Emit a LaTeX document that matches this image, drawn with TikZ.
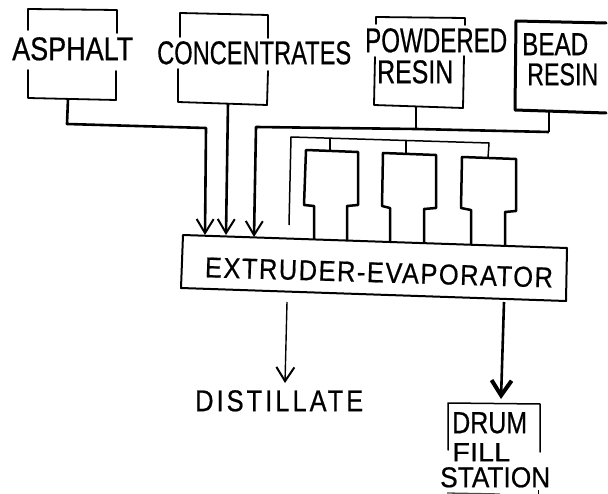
\documentclass[tikz,border=0pt]{standalone}
\usepackage{fontspec}
\setmainfont{Liberation Sans}
\usetikzlibrary{arrows.meta}
\newcommand{\lab}[3]{\resizebox{#1pt}{#2pt}{\addfontfeature{FakeBold=0.6}#3}}
\tikzset{
 lbl/.style={anchor=north west,inner sep=0pt,align=left,text=black,font=\fontsize{10}{#1}\selectfont},
 lbl/.default=30,
 boxline/.style={draw=black,line width=1.8pt,line join=round,line cap=round},
 heavyline/.style={draw=black,line width=3pt,line join=round,line cap=round},
 pipe/.style={draw=black,line width=2.6pt,line join=round},
 thinpipe/.style={draw=black,line width=1.5pt,line join=round},
 hopper/.style={draw=black,line width=2.5pt,line join=round},
 arr/.style={-{Straight Barb[length=14pt,width=17pt,line width=2pt]}},
 thinarr/.style={-{Straight Barb[length=14pt,width=18pt,line width=2pt]}},
 heavyarr/.style={-{Straight Barb[length=15pt,width=20pt,line width=4pt]}}
}
\begin{document}
\begin{tikzpicture}[x=1pt,y=-1pt]
\useasboundingbox (0,0) rectangle (608,494);
% named points
\coordinate (aB) at (68,99);
\coordinate (cB) at (228,103);
\coordinate (pB) at (416,107);
\coordinate (bB) at (549,112);
\coordinate (eT1) at (205,235);
\coordinate (eT2) at (226,235);
\coordinate (eT3) at (254,237);
\coordinate (eB1) at (287,302);
\coordinate (eB2) at (504,302);
\coordinate (dT) at (285,383);
\coordinate (drT) at (501,399);
\coordinate (feedA) at (67,124);
\coordinate (feedB) at (206,128);
\coordinate (mainL) at (256,127);
\coordinate (mainP) at (416,129);
\coordinate (mainR) at (549,132);
\coordinate (thinE) at (289,225);
\coordinate (thinL) at (291,137);
\coordinate (thinR) at (489,143);
% labels
\node[lbl] (asphT) at (12,37) {\lab{121}{23}{ASPHALT}};
\node[lbl] (concT) at (157,41) {\lab{194}{23}{CONCENTRATES}};
\node[lbl=31] (powdT) at (365,28) {\lab{142}{24}{POWDERED}\\\hspace*{12pt}\lab{76}{23}{RESIN}};
\node[lbl=30] (beadT) at (522,33) {\lab{66}{22}{BEAD}\\\hspace*{5pt}\lab{71}{22}{RESIN}};
\node[inner sep=0pt,rotate=-1.7] (extT) at (379,272.5) {\lab{348}{20}{\addfontfeature{LetterSpace=6}EXTRUDER-EVAPORATOR}};
\node[lbl] (distT) at (195,390) {\lab{168}{21}{\addfontfeature{LetterSpace=12}DISTILLATE}};
\node[lbl=28] (drumT) at (440,412) {\hspace*{12pt}\lab{75}{21}{DRUM}\\\hspace*{12pt}\lab{58}{18}{FILL}\\[-2pt]\lab{110}{20}{STATION}};
% boxes, broken where the lettering crosses them
\draw[boxline] (28,30) -- (28,9) -- (117,10) -- (117,33);
\draw[boxline] (28,70) -- (28,98) -- (116,100) -- (116,71);
\draw[boxline] (180,37) -- (180,13) -- (268,15) -- (268,38);
\draw[boxline] (178,69) -- (178,102) -- (267,105) -- (268,71);
\draw[boxline] (376,24) -- (376,17) -- (465,18) -- (465,25);
\draw[boxline] (375,57) -- (374,105) -- (463,108) -- (464,56);
\draw[heavyline] (606,23) -- (516,21) -- (515,110) -- (606,113);
\draw[boxline,line width=2pt] (183,235) -- (567,248) -- (566,301) -- (181,288) -- cycle;
\draw[boxline,line width=1.5pt] (448,450) -- (448,403) -- (540,404) -- (540,452);
\draw[draw=black!70,line width=1.3pt] (447,493) -- (500,494);
\draw[draw=black,line width=1pt] (538,490) -- (538,494);
% hoppers
\draw[hopper] (314,239) -- (314,206) -- (304,205) -- (306,150) -- (358,152) -- (358,205) -- (347,206) -- (347,240);
\draw[hopper] (390,242) -- (390,208) -- (382,206) -- (383,153) -- (436,155) -- (436,208) -- (424,209) -- (424,243);
\draw[hopper] (471,244) -- (471,210) -- (461,208) -- (462,157) -- (516,159) -- (516,211) -- (505,212) -- (505,246);
% connectors
\draw[pipe,arr] (aB) -- (feedA) -- (feedB) -- (eT1);
\draw[pipe,arr] (cB) -- (eT2);
\draw[pipe,arr] (mainR) -- (mainP) -- (mainL) -- (eT3);
\draw[pipe] (pB) -- (mainP);
\draw[pipe] (bB) -- (mainR);
\draw[thinpipe] (thinE) -- (thinL) -- (thinR) -- (488,158);
\draw[thinpipe] (330,138.5) -- (330,150);
\draw[thinpipe] (406,141) -- (406,153);
\draw[thinarr,draw=black,line width=1.4pt] (eB1) -- (dT);
\draw[pipe,heavyarr] (eB2) -- (drT);
\end{tikzpicture}
\end{document}
